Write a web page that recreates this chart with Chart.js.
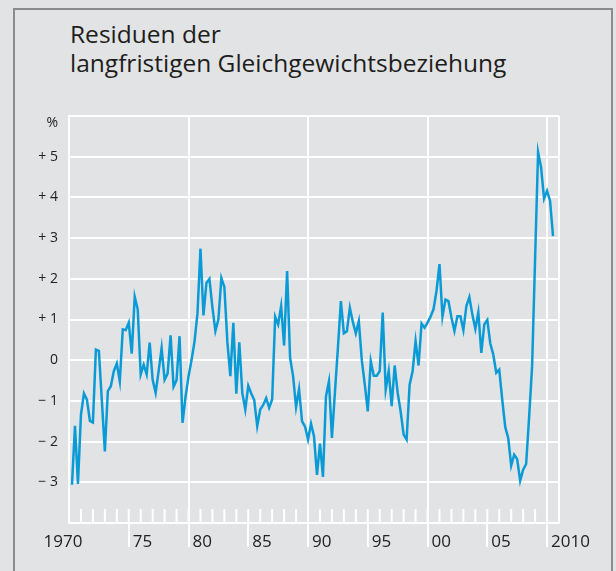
<!DOCTYPE html>
<html>
<head>
<meta charset="utf-8">
<script src="https://cdn.jsdelivr.net/npm/chart.js@4"></script>
<style>
  html, body { margin: 0; padding: 0; background: #e2e3e5; overflow: hidden; }
  #wrap { position: relative; width: 616px; height: 571px; }
  #frame { position: absolute; left: 13px; top: 8px; width: 596px; height: 620px; border: 2px solid #8c8c8c; }
  #title { position: absolute; left: 70px; top: 19px; font: 24.5px/29px "Open Sans", sans-serif; color: #1d1d1b; white-space: nowrap; }
  canvas { position: absolute; left: 0; top: 0; }
</style>
</head>
<body>
<div id="wrap">
  <div id="frame"></div>
  <div id="title">Residuen der<br>langfristigen Gleichgewichtsbeziehung</div>
  <canvas id="chart" width="616" height="571"></canvas>
</div>
<script>
// quarterly residuals, 1970 Q1 .. 2010 Q2 (in %)
const startYear = 1970;
const res1970s = [
  -3.06, -1.61, -3.04, -1.34, -0.82, -0.97, -1.49, -1.53,
  0.26, 0.23, -1.0, -2.24, -0.76, -0.64, -0.27, -0.08,
  -0.52, 0.76, 0.74, 0.92, 0.16, 1.56, 1.25, -0.35,
  -0.11, -0.35, 0.43, -0.48, -0.8, -0.27, 0.3, -0.48,
  -0.33, 0.61, -0.65, -0.49, 0.59, -1.54, -0.9, -0.4
];
const res1980s = [
  0.0, 0.45, 1.15, 2.74, 1.1, 1.9, 2.0, 1.3,
  0.72, 1.0, 2.02, 1.8, 0.45, -0.39, 0.92, -0.82,
  0.44, -0.8, -1.21, -0.63, -0.82, -0.98, -1.62, -1.21,
  -1.1, -0.93, -1.17, -0.96, 1.07, 0.88, 1.33, 0.36,
  2.19, 0.06, -0.39, -1.15, -0.71, -1.5, -1.63, -1.95
];
const res1990s = [
  -1.56, -1.87, -2.82, -2.05, -2.87, -0.89, -0.52, -1.91,
  -0.8, 0.3, 1.45, 0.66, 0.71, 1.29, 0.94, 0.66,
  0.96, 0.0, -0.6, -1.26, -0.02, -0.38, -0.38, -0.27,
  1.17, -0.72, -0.27, -1.13, -0.13, -0.8, -1.26, -1.83,
  -1.95, -0.6, -0.27, 0.47, -0.13, 0.9, 0.8, 0.92
];
const res2000s = [
  1.07, 1.25, 1.7, 2.36, 1.07, 1.49, 1.45, 1.05,
  0.72, 1.08, 1.08, 0.74, 1.33, 1.55, 1.12, 0.77,
  1.18, 0.18, 0.88, 0.99, 0.41, 0.14, -0.31, -0.23,
  -0.97, -1.64, -1.91, -2.59, -2.32, -2.43, -2.96, -2.69,
  -2.55, -1.4, -0.15, 2.5, 5.11, 4.74, 3.97, 4.16,
  3.92, 3.05
];

const xLabelYears = [1970, 1975, 1980, 1985, 1990, 1995, 2000, 2005, 2010];
const xLabels = ["1970", "75", "80", "85", "90", "95", "00", "05", "2010"];
const yTickValues = [-4, -3, -2, -1, 0, 1, 2, 3, 4, 5, 6];
const yTickLabels = ["", "\u2212 3", "\u2212 2", "\u2212 1", "0", "+ 1", "+ 2", "+ 3", "+ 4", "+ 5", "%"];

const residuals = [].concat(res1970s, res1980s, res1990s, res2000s);
const points = residuals.map((v, i) => ({ x: startYear + (i + 1) / 4, y: v }));

const yearTicks = [];
for (let y = 1970; y <= 2011; y++) yearTicks.push(y);

// short inner year ticks + x labels sitting right of the long ticks
const axisMarks = {
  id: 'axisMarks',
  beforeDatasetsDraw(chart) {
    const { ctx, chartArea, scales: { x } } = chart;
    ctx.save();
    ctx.strokeStyle = '#fff';
    ctx.lineWidth = 2;
    ctx.beginPath();
    yearTicks.slice(1, -1).forEach(yr => {
      const px = x.getPixelForValue(yr);
      ctx.moveTo(px, chartArea.bottom);
      ctx.lineTo(px, chartArea.bottom - 14);
    });
    ctx.stroke();
    ctx.restore();
  },
  afterDraw(chart) {
    const { ctx, chartArea, scales: { x } } = chart;
    ctx.save();
    ctx.fillStyle = '#222';
    ctx.font = '17px "Open Sans"';
    ctx.textBaseline = 'middle';
    xLabelYears.forEach((yr, i) => {
      const px = x.getPixelForValue(yr);
      if (i === 0) {
        ctx.textAlign = 'center';
        ctx.fillText(xLabels[i], px - 6, chartArea.bottom + 19);
      } else {
        ctx.textAlign = 'left';
        ctx.fillText(xLabels[i], px + 4, chartArea.bottom + 19);
      }
    });
    ctx.restore();
  }
};

new Chart(document.getElementById('chart'), {
  type: 'line',
  data: {
    datasets: [{
      data: points,
      borderColor: '#0a9bd7',
      borderWidth: 2.5,
      pointRadius: 0,
      tension: 0,
      fill: false
    }]
  },
  options: {
    responsive: false,
    animation: false,
    devicePixelRatio: 1,
    layout: { padding: { left: 0, top: 116, right: 57, bottom: 0 } },
    plugins: {
      legend: { display: false },
      tooltip: { enabled: false }
    },
    scales: {
      x: {
        type: 'linear',
        min: 1970,
        max: 2011,
        afterBuildTicks: s => { s.ticks = yearTicks.map(v => ({ value: v })); },
        afterFit: s => { s.height = 48; },
        ticks: { display: false, autoSkip: false },
        grid: {
          color: c => (c.tick && (c.tick.value % 10 === 0 || c.tick.value === 2011)) ? '#fff' : 'rgba(0,0,0,0)',
          lineWidth: 2,
          tickLength: 24,
          tickWidth: 2,
          tickColor: c => (c.tick && c.tick.value % 5 === 0 && c.tick.value !== 1970) ? '#fff' : 'rgba(0,0,0,0)'
        },
        border: { color: '#fff', width: 2 }
      },
      y: {
        min: -4,
        max: 6,
        afterBuildTicks: s => { s.ticks = yTickValues.map(v => ({ value: v })); },
        afterFit: s => { s.width = 69; },
        ticks: {
          padding: 11,
          color: '#222',
          font: { family: 'Open Sans', size: 14, lineHeight: 1 },
          callback: v => {
            const lab = yTickLabels[yTickValues.indexOf(v)];
            return lab === '%' ? ['', lab] : lab;
          }
        },
        grid: { color: '#fff', lineWidth: 2, drawTicks: false },
        border: { color: '#fff', width: 2 }
      }
    }
  },
  plugins: [axisMarks]
});
</script>
</body>
</html>
